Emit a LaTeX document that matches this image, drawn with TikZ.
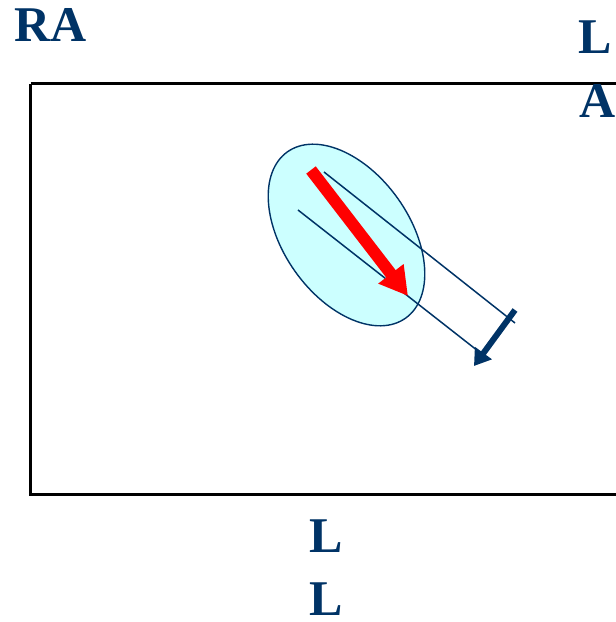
\documentclass[tikz,border=0pt]{standalone}
\usepackage{fontspec}
\setmainfont{Liberation Serif}
\usetikzlibrary{arrows.meta}
\definecolor{navy}{RGB}{0,51,102}
\definecolor{paleblue}{RGB}{204,255,255}
\tikzset{
  lead/.style={font=\fontsize{50}{50}\selectfont\bfseries, text=navy, anchor=base west, inner sep=0pt},
  ray/.style={navy, line width=1.5pt}
}
\begin{document}
\begin{tikzpicture}[x=1pt,y=1pt]
\useasboundingbox (0,0) rectangle (616,622);
\clip (0,0) rectangle (616,622);
% Frame
\draw[line width=3pt] (30.5,538.3) -- (640,538.3) (30.5,538.3) -- (30.5,127.3) -- (640,127.3);
% Labels
\node[lead] (ra) at (14,580) {RA};
\node[lead] (la1) at (578,568.7) {L};
\node[lead] (la2) at (579,504) {A};
\node[lead] (ll1) at (309,69) {L};
\node[lead] (ll2) at (309,6.5) {L};
% Ellipse
\draw[navy, line width=1.4pt, fill=paleblue] (346.5,387) ellipse [x radius=102, y radius=63, rotate=-54.6];
% Projection lines
\coordinate (r1a) at (324,450);
\coordinate (r1b) at (515,299);
\coordinate (r2a) at (298,412);
\coordinate (r2b) at (478,271);
\draw[ray] (r1a) -- (r1b);
\draw[ray] (r2a) -- (r2b);
% Red vector
\coordinate (va) at (311,452);
\coordinate (vb) at (408,326);
\draw[red, line width=12pt, -{Triangle[length=28pt,width=30pt]}] (va) -- (vb);
% Projected vector
\coordinate (pa) at (515,312);
\coordinate (pb) at (474,256);
\draw[navy, line width=6pt, -{Triangle[length=16pt,width=20pt]}] (pa) -- (pb);
\end{tikzpicture}
\end{document}
